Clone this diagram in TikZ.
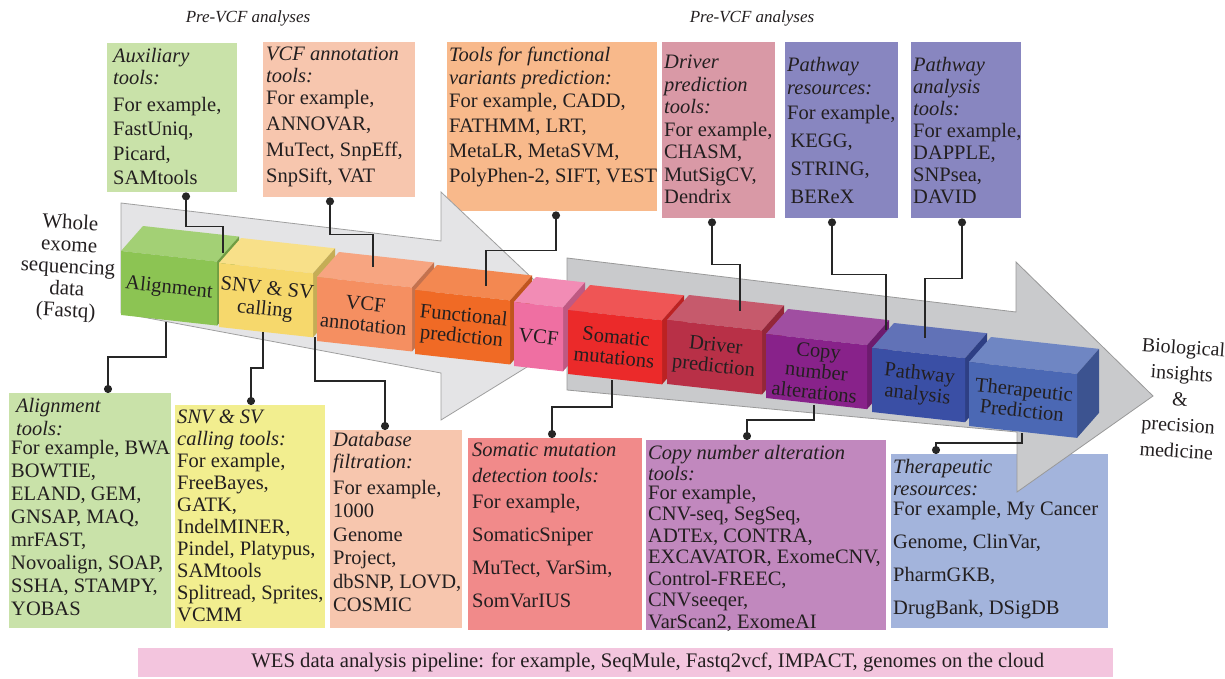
\documentclass[tikz,border=0pt]{standalone}
\usepackage{fontspec}
\setmainfont{Liberation Serif}
\usetikzlibrary{arrows.meta}
\definecolor{ink}{HTML}{231F20}
\definecolor{auxgreen}{HTML}{C9E2A9}
\definecolor{peach}{HTML}{F7C6AE}
\definecolor{apricot}{HTML}{F8B98B}
\definecolor{rose}{HTML}{D999A6}
\definecolor{lavender}{HTML}{8886C0}
\definecolor{lemon}{HTML}{F2EE8F}
\definecolor{coral}{HTML}{F18A8A}
\definecolor{orchid}{HTML}{C188BE}
\definecolor{sky}{HTML}{A3B4DC}
\definecolor{candy}{HTML}{F3C5DE}
\definecolor{shaftlight}{HTML}{E4E4E6}
\definecolor{shaftdark}{HTML}{C9CACC}
\tikzset{
  link/.style={{Circle[length=8pt]}-, line width=1.6pt, black!85},
  toolbox/.style={anchor=north west, inner sep=0pt, draw=none},
  boxtext/.style={anchor=north west, align=left, inner xsep=2pt, inner ysep=5pt, text=ink, font=\fontsize{20.5}{#1}\selectfont},
  cubelabel/.style={align=center, rotate=-6, inner sep=0.5pt, text=ink, font=\fontsize{20.5}{21}\selectfont},
  sidetext/.style={align=center, text=ink, font=\fontsize{20}{#1}\selectfont},
  title/.style={text=ink, font=\fontsize{17}{20}\selectfont\itshape}
}
\begin{document}
\begin{tikzpicture}[x=1pt,y=-1pt]
\useasboundingbox (0,0) rectangle (1225,679);
\node[title] (prevcf1) at (248,18) {Pre-VCF analyses};
\node[title] (prevcf2) at (752,18) {Pre-VCF analyses};

\node[toolbox, fill=auxgreen, minimum width=130, minimum height=149] (auxbox) at (107,43) {};
\node[boxtext=24.5] (auxtext) at ([xshift=4]auxbox.north west) {\textit{Auxiliary}\\[-2pt]\textit{tools:}\\[2pt]For example,\\FastUniq,\\Picard,\\SAMtools};
\node[toolbox, fill=peach, minimum width=152, minimum height=155] (annbox) at (263,42) {};
\node[boxtext=26] (anntext) at ([xshift=1]annbox.north west) {\textit{VCF annotation}\\[-4pt]\textit{tools:}\\[-4pt]For example,\\ANNOVAR,\\MuTect, SnpEff,\\SnpSift, VAT};
\node[toolbox, fill=apricot, minimum width=210, minimum height=169] (funbox) at (447,42) {};
\node[boxtext=25] (funtext) at (funbox.north west) {\textit{Tools for functional}\\[-2pt]\textit{variants prediction:}\\[-2pt]For example, CADD,\\FATHMM, LRT,\\MetaLR, MetaSVM,\\PolyPhen-2, SIFT, VEST};
\node[toolbox, fill=rose, minimum width=113, minimum height=176] (drvbox) at (662,42) {};
\node[boxtext=22.5, yshift=-8] (drvtext) at (drvbox.north west) {\textit{Driver}\\\textit{prediction}\\\textit{tools:}\\For example,\\CHASM,\\MutSigCV,\\Dendrix};
\node[toolbox, fill=lavender, minimum width=113, minimum height=176] (pwrbox) at (785,42) {};
\node[boxtext=28, yshift=-10] (pwrtext) at (pwrbox.north west) {\textit{Pathway}\\[-5pt]\textit{resources:}\\[-3pt]For example,\\ \,KEGG,\\ \,STRING,\\ \,BEReX};
\node[toolbox, fill=lavender, minimum width=110, minimum height=176] (pwabox) at (911,42) {};
\node[boxtext=22, yshift=-10] (pwatext) at (pwabox.north west) {\textit{Pathway}\\\textit{analysis}\\\textit{tools:}\\For example,\\DAPPLE,\\SNPsea,\\DAVID};

\node[toolbox, fill=auxgreen, minimum width=162, minimum height=235] (alnbox) at (9,393) {};
\node[boxtext=23] (alntext) at (alnbox.north west) {\hspace{5pt}\textit{Alignment}\\\hspace{5pt}\textit{tools:}\\[-4pt]For example, BWA\\BOWTIE,\\ELAND, GEM,\\GNSAP, MAQ,\\mrFAST,\\Novoalign, SOAP,\\SSHA, STAMPY,\\YOBAS};
\node[toolbox, fill=lemon, minimum width=150, minimum height=223] (snvbox) at (175,405) {};
\node[boxtext=22] (snvtext) at (snvbox.north west) {\textit{SNV \& SV}\\\textit{calling tools:}\\For example,\\FreeBayes,\\GATK,\\IndelMINER,\\Pindel, Platypus,\\SAMtools\\Splitread, Sprites,\\VCMM};
\node[toolbox, fill=peach, minimum width=132, minimum height=198] (dbbox) at (330,430) {};
\node[boxtext=23.5, yshift=3] (dbtext) at ([xshift=1]dbbox.north west) {\textit{Database}\\[-1pt]\textit{filtration:}\\[2pt]For example,\\1000\\Genome\\Project,\\dbSNP, LOVD,\\COSMIC};
\node[toolbox, fill=coral, minimum width=174, minimum height=192] (smbox) at (468,438) {};
\node[boxtext=33] (smtext) at ([xshift=2]smbox.north west) {\textit{Somatic mutation}\\[-7pt]\textit{detection tools:}\\[-7pt]For example,\\SomaticSniper\\MuTect, VarSim,\\SomVarIUS};
\node[toolbox, fill=orchid, minimum width=240, minimum height=190] (cnabox) at (646,440) {};
\node[boxtext=21.5] (cnatext) at (cnabox.north west) {\textit{Copy number alteration}\\\textit{tools:}\\[-3pt]For example,\\CNV-seq, SegSeq,\\ADTEx, CONTRA,\\EXCAVATOR, ExomeCNV,\\Control-FREEC,\\CNVseeqer,\\VarScan2, ExomeAI};
\node[toolbox, fill=sky, minimum width=217, minimum height=174] (thbox) at (891,454) {};
\node[boxtext=33] (thtext) at (thbox.north west) {\textit{Therapeutic}\\[-11pt]\textit{resources:}\\[-13pt]For example, My Cancer\\Genome, ClinVar,\\PharmGKB,\\DrugBank, DSigDB};

\node[toolbox, fill=candy, minimum width=975, minimum height=29] (pipeline) at (138,648) {};
\node[text=ink, font=\fontsize{20.7}{22}\selectfont] (pipetext) at ([xshift=22]pipeline.center) {WES data analysis pipeline: for example, SeqMule, Fastq2vcf, IMPACT, genomes on the cloud};

\draw[fill=shaftlight, draw=gray!75, line width=0.8pt] (121,203) -- (441,241) -- (441,192) -- (587,330) -- (441,420) -- (441,373) -- (121,313) -- cycle;
\draw[fill=shaftdark, draw=gray!80, line width=0.8pt] (567,258) -- (1016,312) -- (1016,262) -- (1153,396) -- (1017,492) -- (1017,432) -- (567,390) -- cycle;

\foreach \n/\x/\y/\w/\col/\lbl in {
  aln/121/251/96/8CC453/Alignment,
  snv/219/263/94/F6D86C/{SNV \& SV\\calling},
  ann/317/277/95/F58F61/{VCF\\annotation},
  fun/415/290/95/F06A25/{Functional\\prediction},
  vcf/514/302/49/EF6FA2/VCF,
  som/568/310/94/EB2A2A/{Somatic\\mutations},
  drv/667/320/95/B83047/{Driver\\prediction},
  cna/766/334/101/88228A/{Copy\\number\\alterations},
  pwy/872/348/93/3A4FA5/{Pathway\\analysis},
  thr/969/362/108/4B68B4/{Therapeutic\\Prediction}}{
  \definecolor{cubecol}{HTML}{\col}
  \pgfmathsetmacro\yr{\y+0.11*\w}
  \fill[cubecol!80!white] (\x,\y) -- ++(22,-25) -- (\x+\w+22,\yr-25) -- (\x+\w,\yr) -- cycle;
  \fill[cubecol!80!black] (\x+\w,\yr) -- ++(22,-25) -- ++(0,64) -- ++(-22,25) -- cycle;
  \fill[cubecol] (\x,\y) -- (\x+\w,\yr) -- ++(0,64) -- (\x,\y+64) -- cycle;
  \node[cubelabel] (\n) at (\x+\w/2,{(\y+\yr)/2+32}) {\lbl};
}

\node[sidetext=22, rotate=-3, font=\fontsize{21}{22}\selectfont] (wes) at (68,268) {Whole\\exome\\sequencing\\data\\(Fastq)};
\node[sidetext=26, rotate=-4] (bio) at (1180,399) {Biological\\insights\\\&\\precision\\medicine};

\foreach \n/\p in {auxend/{223,253}, annend/{373,267}, funend/{486,286}, drvend/{740,311}, pwrend/{886,330}, pwaend/{925,338}, alnend/{166,322}, snvend/{263,332}, dbend/{315,337}, smend/{612,380}, cnaend/{814,405}, thend/{1022,433}}
  \coordinate (\n) at (\p);

\draw[link] ([xshift=79]auxbox.south west) -- ++(0,34) -| (auxend);
\draw[link] ([xshift=67]annbox.south west) -- ++(0,37) -| (annend);
\draw[link] ([xshift=109]funbox.south west) -- ++(0,39) -| (funend);
\draw[link] ([xshift=50]drvbox.south west) -- ++(0,46) -| (drvend);
\draw[link] ([xshift=47]pwrbox.south west) -- ++(0,56) -| (pwrend);
\draw[link] ([xshift=51]pwabox.south west) -- ++(0,60) -| (pwaend);
\draw[link] ([xshift=99]alnbox.north west) -- ++(0,-36) -| (alnend);
\draw[link] ([xshift=76]snvbox.north west) -- ++(0,-37) -| (snvend);
\draw[link] ([xshift=55]dbbox.north west) -- ++(0,-49) -| (dbend);
\draw[link] ([xshift=84]smbox.north west) -- ++(0,-31) -| (smend);
\draw[link] ([xshift=101]cnabox.north west) -- ++(0,-20) -| (cnaend);
\draw[link] ([xshift=45]thbox.north west) -- ++(0,-11) -| (thend);
\end{tikzpicture}
\end{document}
